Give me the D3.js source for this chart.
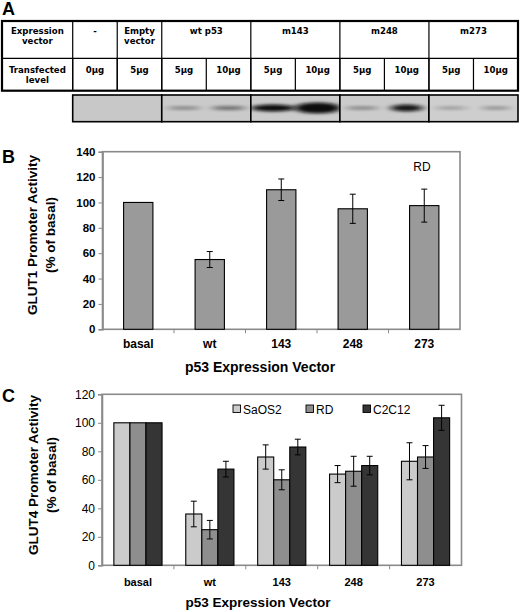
<!DOCTYPE html>
<html>
<head>
<meta charset="utf-8">
<script src="https://cdn.jsdelivr.net/npm/d3@7"></script>
<style>
  body { margin: 0; background: #fff; }
  text { font-family: "Liberation Sans", Arial, sans-serif; }
  .tbl { font-family: "DejaVu Sans", sans-serif; font-weight: bold; font-size: 8.6px; }
</style>
</head>
<body>
<div id="fig"></div>
<script>
// ---- data ----
// panel A: table + blot
const vectorLabels = [["Expression", "vector"], ["-"], ["Empty", "vector"], ["wt p53"], ["m143"], ["m248"], ["m273"]];
const levelLabels = [["Transfected", "level"], ["0\u03bcg"], ["5\u03bcg"], ["5\u03bcg"], ["10\u03bcg"], ["5\u03bcg"], ["10\u03bcg"], ["5\u03bcg"], ["10\u03bcg"], ["5\u03bcg"], ["10\u03bcg"]];
const vectorSpan = [1, 1, 1, 2, 2, 2, 2]; // lower-row columns each header covers
const bandIntensity = [0, 0, 0.4, 0.5, 1.0, 1.0, 0.4, 0.95, 0.3, 0.35];
const bandWidth = [0, 0, 0.8, 0.85, 1.1, 1.15, 0.8, 0.8, 0.8, 0.7];
const bandHeight = [0, 0, 1.6, 2, 3.6, 5.5, 1.6, 3.6, 1.5, 1.6];
const blotGroups = [2, 2, 2, 2, 2]; // lanes per blot segment
const blotBg = ["#c8c8c8", "#cacaca", "#cbcbcb", "#cbcbcb", "#cecece"];

// panel B
const catsB = ["basal", "wt", "143", "248", "273"];
const glut1 = [100, 55, 110, 95, 97.5];
const glut1Err = [0, 6.3, 8.5, 11.5, 13];
const yTicksB = [0, 20, 40, 60, 80, 100, 120, 140];

// panel C
const catsC = ["basal", "wt", "143", "248", "273"];
const cellLines = ["SaOS2", "RD", "C2C12"];
const glut4SaOS2 = [100, 36, 76, 64, 73];
const glut4RD = [100, 25, 60, 66, 76];
const glut4C2C12 = [100, 67.5, 83, 70, 103.5];
const errSaOS2 = [0, 9, 8.5, 6, 13];
const errRD = [0, 6.5, 7, 10.5, 8];
const errC2C12 = [0, 5.5, 5.5, 6.5, 8.8];
const yTicksC = [0, 20, 40, 60, 80, 100, 120];
const lineColors = ["#cbcbcb", "#8e8e8e", "#353535"];

const W = 520, H = 612;
const svg = d3.select("#fig").append("svg").attr("width", W).attr("height", H);

// ==========================================
//         PANEL A: table and blot
// ==========================================
svg.append("text").attr("x", 2).attr("y", 15).attr("font-size", 18).attr("font-weight", "bold").text("A");

const tblLeft = 2, tblRight = 518, firstColRight = 72.7;
const rowTop = 21, rowMid = 58.3, rowBot = 90.7;
// lower row column edges, linear across lane columns
const laneX = d3.scaleLinear().domain([0, 10]).range([firstColRight, tblRight]);

const tbl = svg.append("g");
tbl.append("rect").attr("x", tblLeft).attr("y", rowTop).attr("width", tblRight - tblLeft).attr("height", rowBot - rowTop)
  .attr("fill", "#fff").attr("stroke", "#000").attr("stroke-width", 2.2);
tbl.append("line").attr("x1", tblLeft).attr("x2", tblRight).attr("y1", rowMid).attr("y2", rowMid)
  .attr("stroke", "#000").attr("stroke-width", 1.2);

// header row cells
let lane = 0;
const headerCells = [{ x0: tblLeft, x1: firstColRight, lines: vectorLabels[0] }];
vectorLabels.slice(1).forEach((lab, i) => {
  const span = vectorSpan[i + 1];
  headerCells.push({ x0: laneX(lane), x1: laneX(lane + span), lines: lab });
  lane += span;
});
headerCells.forEach((c, i) => {
  if (i > 0) tbl.append("line").attr("x1", c.x0).attr("x2", c.x0).attr("y1", rowTop).attr("y2", rowBot)
    .attr("stroke", "#000").attr("stroke-width", 1.2);
  c.lines.forEach((s, j) => {
    tbl.append("text").attr("class", "tbl").attr("x", (c.x0 + c.x1) / 2).attr("y", 34 + j * 10)
      .attr("text-anchor", "middle").text(s);
  });
});

// level row cells
levelLabels.forEach((lab, i) => {
  const x0 = i === 0 ? tblLeft : laneX(i - 1);
  const x1 = i === 0 ? firstColRight : laneX(i);
  if (i > 0) tbl.append("line").attr("x1", x0).attr("x2", x0).attr("y1", rowMid).attr("y2", rowBot)
    .attr("stroke", "#000").attr("stroke-width", 1.2);
  lab.forEach((s, j) => {
    tbl.append("text").attr("class", "tbl").attr("x", (x0 + x1) / 2).attr("y", 72.5 + j * 10)
      .attr("text-anchor", "middle").text(s);
  });
});

// blot
const defs = svg.append("defs");
defs.append("filter").attr("id", "blur").attr("x", "-50%").attr("y", "-150%").attr("width", "200%").attr("height", "400%")
  .append("feGaussianBlur").attr("stdDeviation", "4 1.4");
const blotTop = 95, blotBot = 121.7, bandY = 108;
const blot = svg.append("g");
let l0 = 0;
blotGroups.forEach((n, gi) => {
  const x0 = laneX(l0), x1 = laneX(l0 + n);
  defs.append("clipPath").attr("id", "seg" + gi).append("rect")
    .attr("x", x0).attr("y", blotTop).attr("width", x1 - x0).attr("height", blotBot - blotTop);
  const seg = blot.append("g").attr("clip-path", `url(#seg${gi})`);
  seg.append("rect").attr("x", x0).attr("y", blotTop).attr("width", x1 - x0).attr("height", blotBot - blotTop)
    .attr("fill", blotBg[gi]);
  d3.range(l0, l0 + n).forEach(k => {
    const v = bandIntensity[k];
    if (v <= 0) return;
    const cx = (laneX(k) + laneX(k + 1)) / 2;
    const laneW = laneX(k + 1) - laneX(k);
    seg.append("ellipse").attr("cx", cx).attr("cy", bandY)
      .attr("rx", laneW * 0.45 * bandWidth[k]).attr("ry", bandHeight[k])
      .attr("fill", "#0a0a0a").attr("opacity", v).attr("filter", "url(#blur)");
  });
  blot.append("rect").attr("x", x0).attr("y", blotTop).attr("width", x1 - x0).attr("height", blotBot - blotTop)
    .attr("fill", "none").attr("stroke", "#000").attr("stroke-width", 1.6);
  l0 += n;
});

// ==========================================
//         helper for bar panels
// ==========================================
function frame(g, x0, x1, y0, y1) {
  g.append("rect").attr("x", x0).attr("y", y0).attr("width", x1 - x0).attr("height", y1 - y0)
    .attr("fill", "none").attr("stroke", "#8a8a8a").attr("stroke-width", 1.6);
}
function errBar(g, x, yLo, yHi) {
  g.append("line").attr("x1", x).attr("x2", x).attr("y1", yLo).attr("y2", yHi).attr("stroke", "#000").attr("stroke-width", 1);
  [yLo, yHi].forEach(yy => g.append("line").attr("x1", x - 3).attr("x2", x + 3).attr("y1", yy).attr("y2", yy)
    .attr("stroke", "#000").attr("stroke-width", 1));
}
function styleAxis(a) {
  a.select(".domain").attr("stroke", "#8a8a8a").attr("stroke-width", 1.6);
  a.selectAll(".tick line").attr("stroke", "#8a8a8a");
}

// ==========================================
//         PANEL B: GLUT1
// ==========================================
svg.append("text").attr("x", 2).attr("y", 163).attr("font-size", 18).attr("font-weight", "bold").text("B");
const bL = 102.5, bR = 460, bT = 151.7, bB = 329.3;
const xB = d3.scaleBand().domain(catsB).range([bL, bR]).paddingInner(0.59).paddingOuter(0.295);
const xBcat = d3.scaleBand().domain(catsB).range([bL, bR]);
const yB = d3.scaleLinear().domain([0, 140]).range([bB, bT]);
const gB = svg.append("g");

const axYB = gB.append("g").attr("transform", `translate(${bL},0)`)
  .call(d3.axisLeft(yB).tickValues(yTicksB).tickSize(4).tickPadding(3));
axYB.selectAll("text").attr("font-size", 11.5).attr("font-weight", "bold").attr("font-family", "Liberation Sans, Arial");
styleAxis(axYB);
// category boundary ticks
gB.selectAll(".bt").data(catsB.slice(1)).enter().append("line")
  .attr("x1", d => xBcat(d)).attr("x2", d => xBcat(d)).attr("y1", bB).attr("y2", bB + 4).attr("stroke", "#8a8a8a");
frame(gB, bL, bR, bT, bB);

gB.selectAll(".barB").data(catsB).enter().append("rect")
  .attr("x", d => xB(d)).attr("width", xB.bandwidth())
  .attr("y", (d, i) => yB(glut1[i])).attr("height", (d, i) => bB - yB(glut1[i]))
  .attr("fill", "#9a9a9a").attr("stroke", "#000").attr("stroke-width", 1.1);
catsB.forEach((c, i) => {
  if (glut1Err[i] > 0) errBar(gB, xB(c) + xB.bandwidth() / 2, yB(glut1[i] - glut1Err[i]), yB(glut1[i] + glut1Err[i]));
});
gB.selectAll(".lblB").data(catsB).enter().append("text")
  .attr("x", d => xBcat(d) + xBcat.bandwidth() / 2).attr("y", 348)
  .attr("text-anchor", "middle").attr("font-size", 12).attr("font-weight", "bold").text(d => d);
gB.append("text").attr("x", 422).attr("y", 171).attr("text-anchor", "middle").attr("font-size", 12).text("RD");
gB.append("text").attr("x", 260).attr("y", 372).attr("text-anchor", "middle").attr("font-size", 14).attr("font-weight", "bold")
  .text("p53 Expression Vector");
const ytB = gB.append("text").attr("transform", "translate(37,235) rotate(-90)").attr("text-anchor", "middle")
  .attr("font-size", 13.5).attr("font-weight", "bold");
ytB.append("tspan").attr("x", 0).attr("y", 0).text("GLUT1 Promoter Activity");
ytB.append("tspan").attr("x", 0).attr("y", 18).text("(% of basal)");

// ==========================================
//         PANEL C: GLUT4
// ==========================================
svg.append("text").attr("x", 2).attr("y", 402).attr("font-size", 18).attr("font-weight", "bold").text("C");
const cL = 102, cR = 461.5, cT = 394.3, cB = 565.3;
const xC = d3.scaleBand().domain(catsC).range([cL, cR]).paddingInner(0.33).paddingOuter(0.165);
const xCcat = d3.scaleBand().domain(catsC).range([cL, cR]);
const xSub = d3.scaleBand().domain(cellLines).range([0, xC.bandwidth()]);
const yC = d3.scaleLinear().domain([0, 120]).range([cB, cT]);
const gC = svg.append("g");

const axYC = gC.append("g").attr("transform", `translate(${cL},0)`)
  .call(d3.axisLeft(yC).tickValues(yTicksC).tickSize(4).tickPadding(3));
axYC.selectAll("text").attr("font-size", 12).attr("font-family", "Liberation Sans, Arial");
styleAxis(axYC);
gC.selectAll(".ct").data(catsC.slice(1)).enter().append("line")
  .attr("x1", d => xCcat(d)).attr("x2", d => xCcat(d)).attr("y1", cB).attr("y2", cB + 4).attr("stroke", "#8a8a8a");
frame(gC, cL, cR, cT, cB);

const seriesC = [
  { name: "SaOS2", vals: glut4SaOS2, err: errSaOS2 },
  { name: "RD", vals: glut4RD, err: errRD },
  { name: "C2C12", vals: glut4C2C12, err: errC2C12 }
];
seriesC.forEach((s, si) => {
  gC.selectAll(".bar" + si).data(catsC).enter().append("rect")
    .attr("x", d => xC(d) + xSub(s.name)).attr("width", xSub.bandwidth())
    .attr("y", (d, i) => yC(s.vals[i])).attr("height", (d, i) => cB - yC(s.vals[i]))
    .attr("fill", lineColors[si]).attr("stroke", "#000").attr("stroke-width", 1.1);
});
seriesC.forEach(s => {
  catsC.forEach((c, i) => {
    if (s.err[i] > 0) errBar(gC, xC(c) + xSub(s.name) + xSub.bandwidth() / 2, yC(s.vals[i] - s.err[i]), yC(s.vals[i] + s.err[i]));
  });
});
gC.selectAll(".lblC").data(catsC).enter().append("text")
  .attr("x", d => xCcat(d) + xCcat.bandwidth() / 2).attr("y", 586)
  .attr("text-anchor", "middle").attr("font-size", 11).attr("font-weight", "bold").text(d => d);
gC.append("text").attr("x", 258).attr("y", 607).attr("text-anchor", "middle").attr("font-size", 13.5).attr("font-weight", "bold")
  .text("p53 Expression Vector");
const ytC = gC.append("text").attr("transform", "translate(38,475) rotate(-90)").attr("text-anchor", "middle")
  .attr("font-size", 13.5).attr("font-weight", "bold");
ytC.append("tspan").attr("x", 0).attr("y", 0).text("GLUT4 Promoter Activity");
ytC.append("tspan").attr("x", 0).attr("y", 18).text("(% of basal)");

// legend
const legX = [233, 306, 363];
cellLines.forEach((name, i) => {
  gC.append("rect").attr("x", legX[i]).attr("y", 405).attr("width", 7.5).attr("height", 7.5)
    .attr("fill", lineColors[i]).attr("stroke", "#000").attr("stroke-width", 0.9);
  gC.append("text").attr("x", legX[i] + 10).attr("y", 413.5).attr("font-size", 12).text(name);
});
</script>
</body>
</html>
